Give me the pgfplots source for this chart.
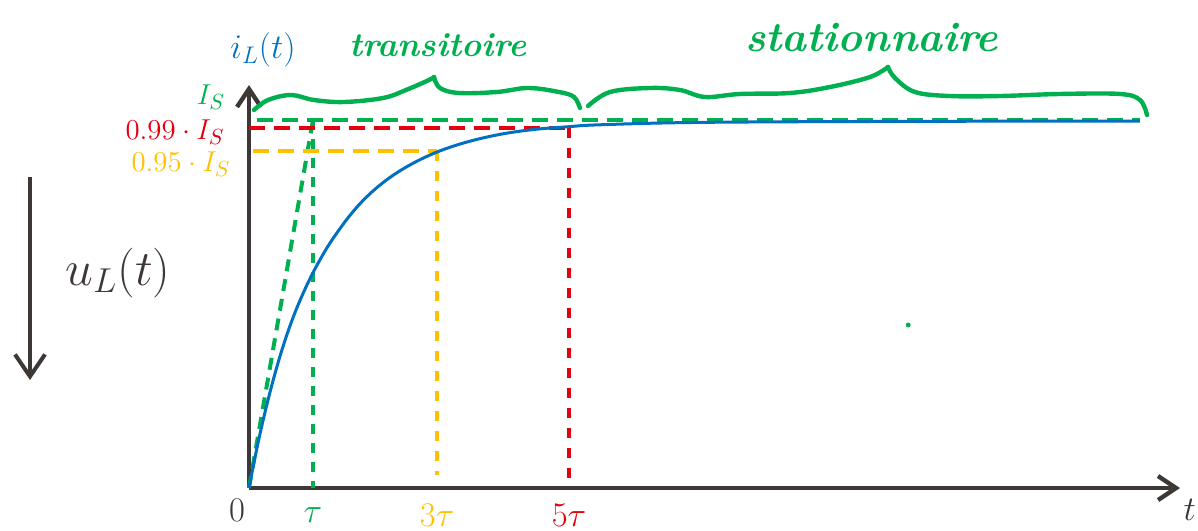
\documentclass[border=0pt]{standalone}
\usepackage{pgfplots}
\pgfplotsset{compat=1.18}
\usetikzlibrary{arrows.meta}
\definecolor{cblue}{HTML}{0070C0}
\definecolor{cgreen}{HTML}{00B050}
\definecolor{cred}{HTML}{E3000F}
\definecolor{cyellow}{HTML}{FFC000}
\definecolor{cgray}{HTML}{3D3735}
\begin{document}
\begin{tikzpicture}
\begin{axis}[
  scale only axis, width=465.5pt, height=201.5pt,
  xmin=0, xmax=14.547, ymin=0, ymax=1.0951,
  axis lines=left,
  axis line style={draw=cgray, line width=2.2pt, -{Straight Barb[length=9pt,width=12pt]}},
  xtick=\empty, ytick=\empty,
  clip=false,
]
% dashed guides
\addplot[cgreen, line width=2pt, dash pattern=on 8pt off 4.5pt] coordinates {(0.125,1) (13.92,1)};
\addplot[cgreen, line width=2pt, dash pattern=on 6pt off 4pt] coordinates {(0,0) (1,1)};
\addplot[cgreen, line width=2pt, dash pattern=on 5pt off 4.5pt] coordinates {(1,1) (1,0)};
\addplot[cred, line width=2pt, dash pattern=on 8pt off 4.5pt] coordinates {(0,0.978) (5,0.978)};
\addplot[cred, line width=2pt, dash pattern=on 5pt off 5pt] coordinates {(5,0.978) (5,0.022)};
\addplot[cyellow, line width=2pt, dash pattern=on 8pt off 4.5pt] coordinates {(0.06,0.915) (2.94,0.915)};
\addplot[cyellow, line width=2pt, dash pattern=on 5pt off 5pt] coordinates {(2.94,0.915) (2.94,0.035)};
% current curve
\addplot[cblue, line width=1.5pt, smooth, tension=0.6] coordinates {
 (0,0) (0.1406,0.1223) (0.297,0.2391) (0.453,0.3397) (0.609,0.425) (0.766,0.497)
 (0.953,0.569) (1.141,0.630) (1.3125,0.678) (1.578,0.741) (1.844,0.792)
 (2.156,0.838) (2.516,0.878) (2.9375,0.9130) (3.406,0.9402) (3.922,0.9610)
 (4.4375,0.9740) (4.969,0.9815) (5.484,0.9870) (7.047,0.9935) (10.17,0.9962)
 (13.92,0.9973)};
% braces
\addplot[cgreen, line width=2.2pt, smooth, tension=0.6, line cap=round] coordinates {
 (0.078,1.0272) (0.297,1.0543) (0.656,1.0679) (1.016,1.0543) (1.484,1.0489)
 (2.094,1.0598) (2.453,1.0815) (2.8125,1.1087) (2.891,1.1168)};
\addplot[cgreen, line width=2.2pt, smooth, tension=0.6, line cap=round] coordinates {
 (2.891,1.1168) (2.984,1.0870) (3.281,1.0734) (3.875,1.0761) (4.359,1.0870)
 (4.844,1.0761) (5.078,1.0625) (5.172,1.0326)};
\addplot[cgreen, line width=2.2pt, smooth, tension=0.6, line cap=round] coordinates {
 (5.297,1.0380) (5.641,1.0761) (6.266,1.0870) (6.734,1.0815) (7.125,1.0625)
 (7.672,1.0707) (8.453,1.0734) (9.078,1.0897) (9.703,1.1168) (9.984,1.1440)};
\addplot[cgreen, line width=2.2pt, smooth, tension=0.6, line cap=round] coordinates {
 (9.984,1.1440) (10.094,1.1141) (10.406,1.0761) (10.953,1.0652) (11.734,1.0652)
 (12.672,1.0707) (13.609,1.0707) (13.922,1.0543) (14.031,1.0136)};
% stray dot
\addplot[only marks, mark=*, mark size=1pt, cgreen] coordinates {(10.30,0.443)};
% left arrow for u_L
\addplot[cgray, line width=2pt, -{Straight Barb[length=11pt,width=15pt]}] coordinates {(-3.422,0.845) (-3.422,0.2935)};
% labels
\node[text=cgray, font=\fontsize{25}{28}\selectfont] at (axis cs:-2.047,0.585) {$u_L(t)$};
\node[text=cblue, font=\fontsize{18}{21}\selectfont] at (axis cs:0.22,1.190) {$i_L(t)$};
\node[text=cgreen, font=\fontsize{15}{18}\selectfont] at (axis cs:-0.594,1.0625) {$I_S$};
\node[text=cred, font=\fontsize{15}{18}\selectfont, anchor=east, inner sep=0pt] at (axis cs:-0.375,0.967) {$0.99\cdot I_S$};
\node[text=cyellow, font=\fontsize{15}{18}\selectfont, anchor=east, inner sep=0pt] at (axis cs:-0.281,0.880) {$0.95\cdot I_S$};
\node[text=cgray, font=\fontsize{16}{19}\selectfont] at (axis cs:-0.1875,-0.0598) {$0$};
\node[text=cgreen, font=\fontsize{16}{19}\selectfont] at (axis cs:1.0,-0.0734) {$\tau$};
\node[text=cyellow, font=\fontsize{16}{19}\selectfont] at (axis cs:2.94,-0.0734) {$3\tau$};
\node[text=cred, font=\fontsize{16}{19}\selectfont] at (axis cs:5.0,-0.0734) {$5\tau$};
\node[text=cgray, font=\fontsize{17}{20}\selectfont] at (axis cs:14.70,-0.0598) {$t$};
\node[text=cgreen, font=\fontsize{17}{20}\selectfont\bfseries\itshape] at (axis cs:2.953,1.204) {transitoire};
\node[text=cgreen, font=\fontsize{21}{24}\selectfont\bfseries\itshape] at (axis cs:9.73,1.2255) {stationnaire};
\coordinate (ll) at (axis cs:-3.8906,-0.1141);
\coordinate (ur) at (axis cs:14.828,1.3261);
\end{axis}
\pgfresetboundingbox
\path[use as bounding box] (ll) rectangle (ur);
\end{tikzpicture}
\end{document}
